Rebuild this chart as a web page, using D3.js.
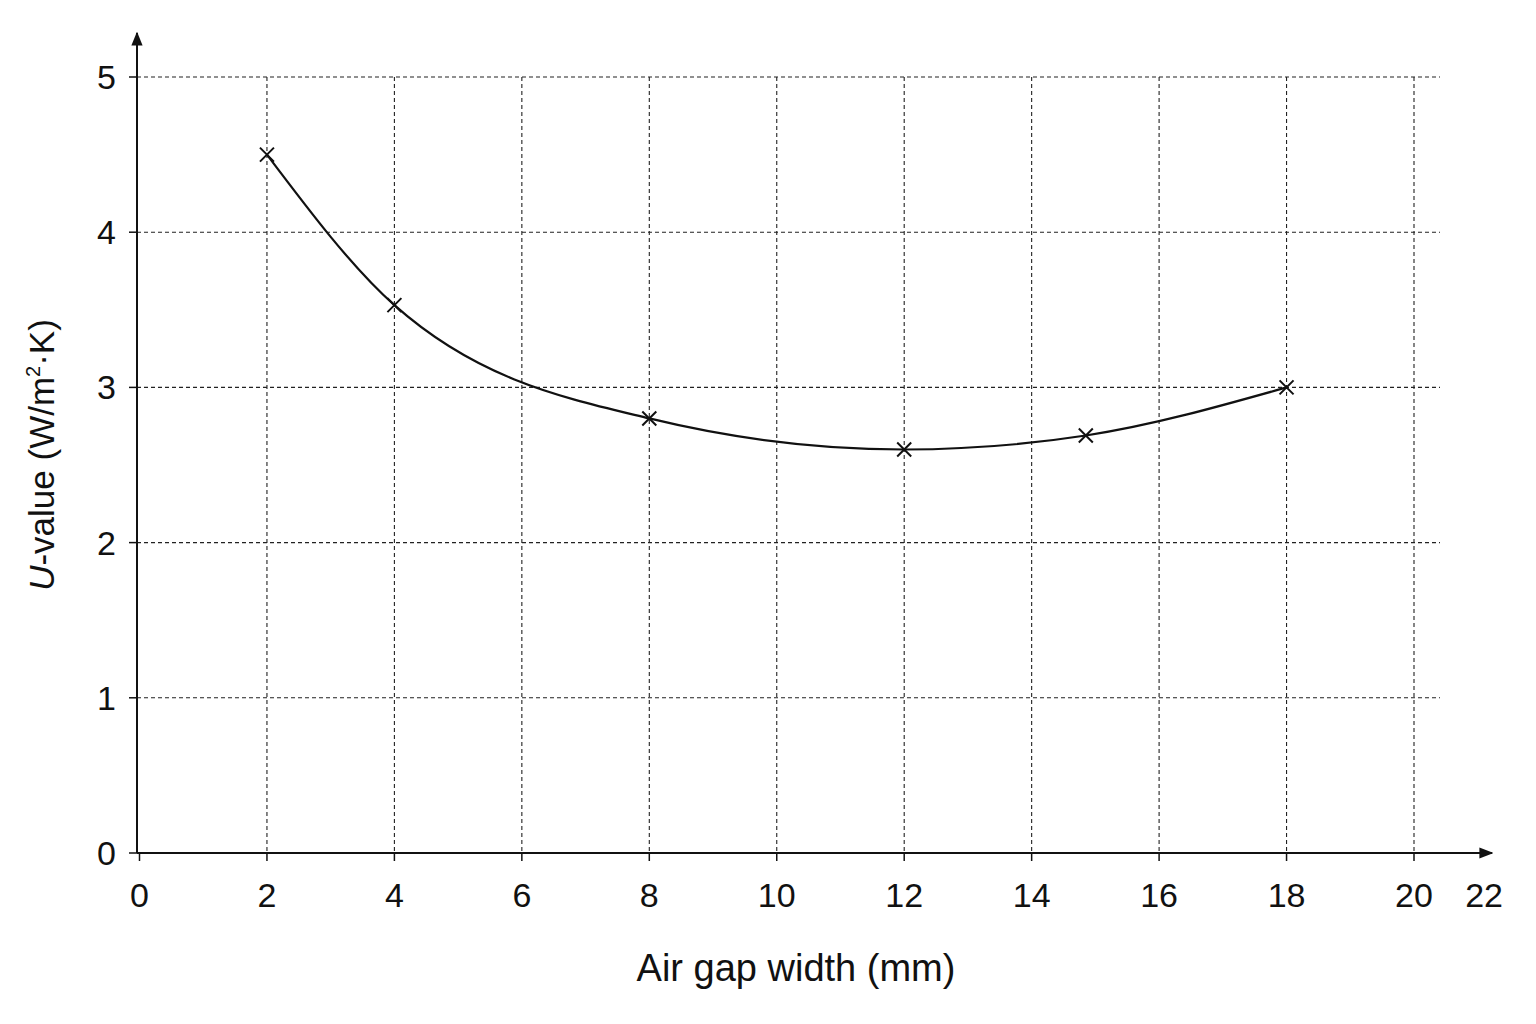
<!DOCTYPE html>
<html><head><meta charset="utf-8">
<script src="https://cdn.jsdelivr.net/npm/d3@7"></script>
<style>body{margin:0;background:#fff}text{font-family:"Liberation Sans",Arial,sans-serif;fill:#111}</style>
</head><body><svg id="c" width="1536" height="1024"></svg>
<script>
const gapWidth = [2, 4, 8, 12, 14.85, 18];
const uValue = [4.5, 3.53, 2.8, 2.6, 2.69, 3.0];
const xTicks = [0, 2, 4, 6, 8, 10, 12, 14, 16, 18, 20];
const yTicks = [0, 1, 2, 3, 4, 5];

const svg = d3.select("#c");
const x = d3.scaleLinear().domain([0, 20]).range([139.5, 1414]);
const y = d3.scaleLinear().domain([0, 5]).range([853, 77]);
const gridRight = 1440;

const g = svg.append("g").attr("stroke", "#222").attr("stroke-width", 1.1).attr("stroke-dasharray", "4,3");
xTicks.filter(d => d > 0).forEach(d => g.append("line").attr("x1", x(d)).attr("x2", x(d)).attr("y1", y(5)).attr("y2", y(0)));
yTicks.filter(d => d > 0).forEach(d => g.append("line").attr("x1", 137).attr("x2", gridRight).attr("y1", y(d)).attr("y2", y(d)));

svg.append("defs").append("marker").attr("id", "ar").attr("viewBox", "0 0 10 10").attr("refX", 9).attr("refY", 5)
  .attr("markerWidth", 7).attr("markerHeight", 7).attr("orient", "auto")
  .append("path").attr("d", "M0,1 L10,5 L0,9 Z").attr("fill", "#111");
svg.append("line").attr("x1", 137).attr("x2", 1492).attr("y1", y(0)).attr("y2", y(0)).attr("stroke", "#111").attr("stroke-width", 2).attr("marker-end", "url(#ar)");
svg.append("line").attr("x1", 137).attr("x2", 137).attr("y1", y(0)).attr("y2", 33).attr("stroke", "#111").attr("stroke-width", 2).attr("marker-end", "url(#ar)");

xTicks.forEach(d => {
  svg.append("line").attr("x1", x(d)).attr("x2", x(d)).attr("y1", y(0)).attr("y2", y(0) + 8).attr("stroke", "#111").attr("stroke-width", 1.5);
  svg.append("text").attr("x", x(d)).attr("y", 907).attr("text-anchor", "middle").attr("font-size", 34).text(d);
});
svg.append("text").attr("x", x(21.1)).attr("y", 907).attr("text-anchor", "middle").attr("font-size", 34).text("22");
yTicks.forEach(d => {
  svg.append("line").attr("x1", 129).attr("x2", 137).attr("y1", y(d)).attr("y2", y(d)).attr("stroke", "#111").attr("stroke-width", 1.5);
  svg.append("text").attr("x", 116).attr("y", y(d) + 12).attr("text-anchor", "end").attr("font-size", 34).text(d);
});

svg.append("text").attr("x", 796).attr("y", 981).attr("text-anchor", "middle").attr("font-size", 38).text("Air gap width (mm)");
const yl = svg.append("text").attr("transform", "translate(54,455) rotate(-90)").attr("text-anchor", "middle").attr("font-size", 35);
yl.append("tspan").attr("font-style", "italic").text("U");
yl.append("tspan").text("-value (W/m");
yl.append("tspan").attr("font-size", 20).attr("dy", -14).text("2");
yl.append("tspan").attr("dy", 14).text("·K)");

const pts = gapWidth.map((d, i) => [d, uValue[i]]);
svg.append("path").datum(pts).attr("fill", "none").attr("stroke", "#111").attr("stroke-width", 2.2)
  .attr("d", d3.line().x(d => x(d[0])).y(d => y(d[1])).curve(d3.curveMonotoneX));
const s = 7;
pts.forEach(d => {
  const cx = x(d[0]), cy = y(d[1]);
  svg.append("path").attr("d", `M${cx-s},${cy-s}L${cx+s},${cy+s}M${cx-s},${cy+s}L${cx+s},${cy-s}`).attr("stroke", "#111").attr("stroke-width", 2);
});
</script></body></html>
